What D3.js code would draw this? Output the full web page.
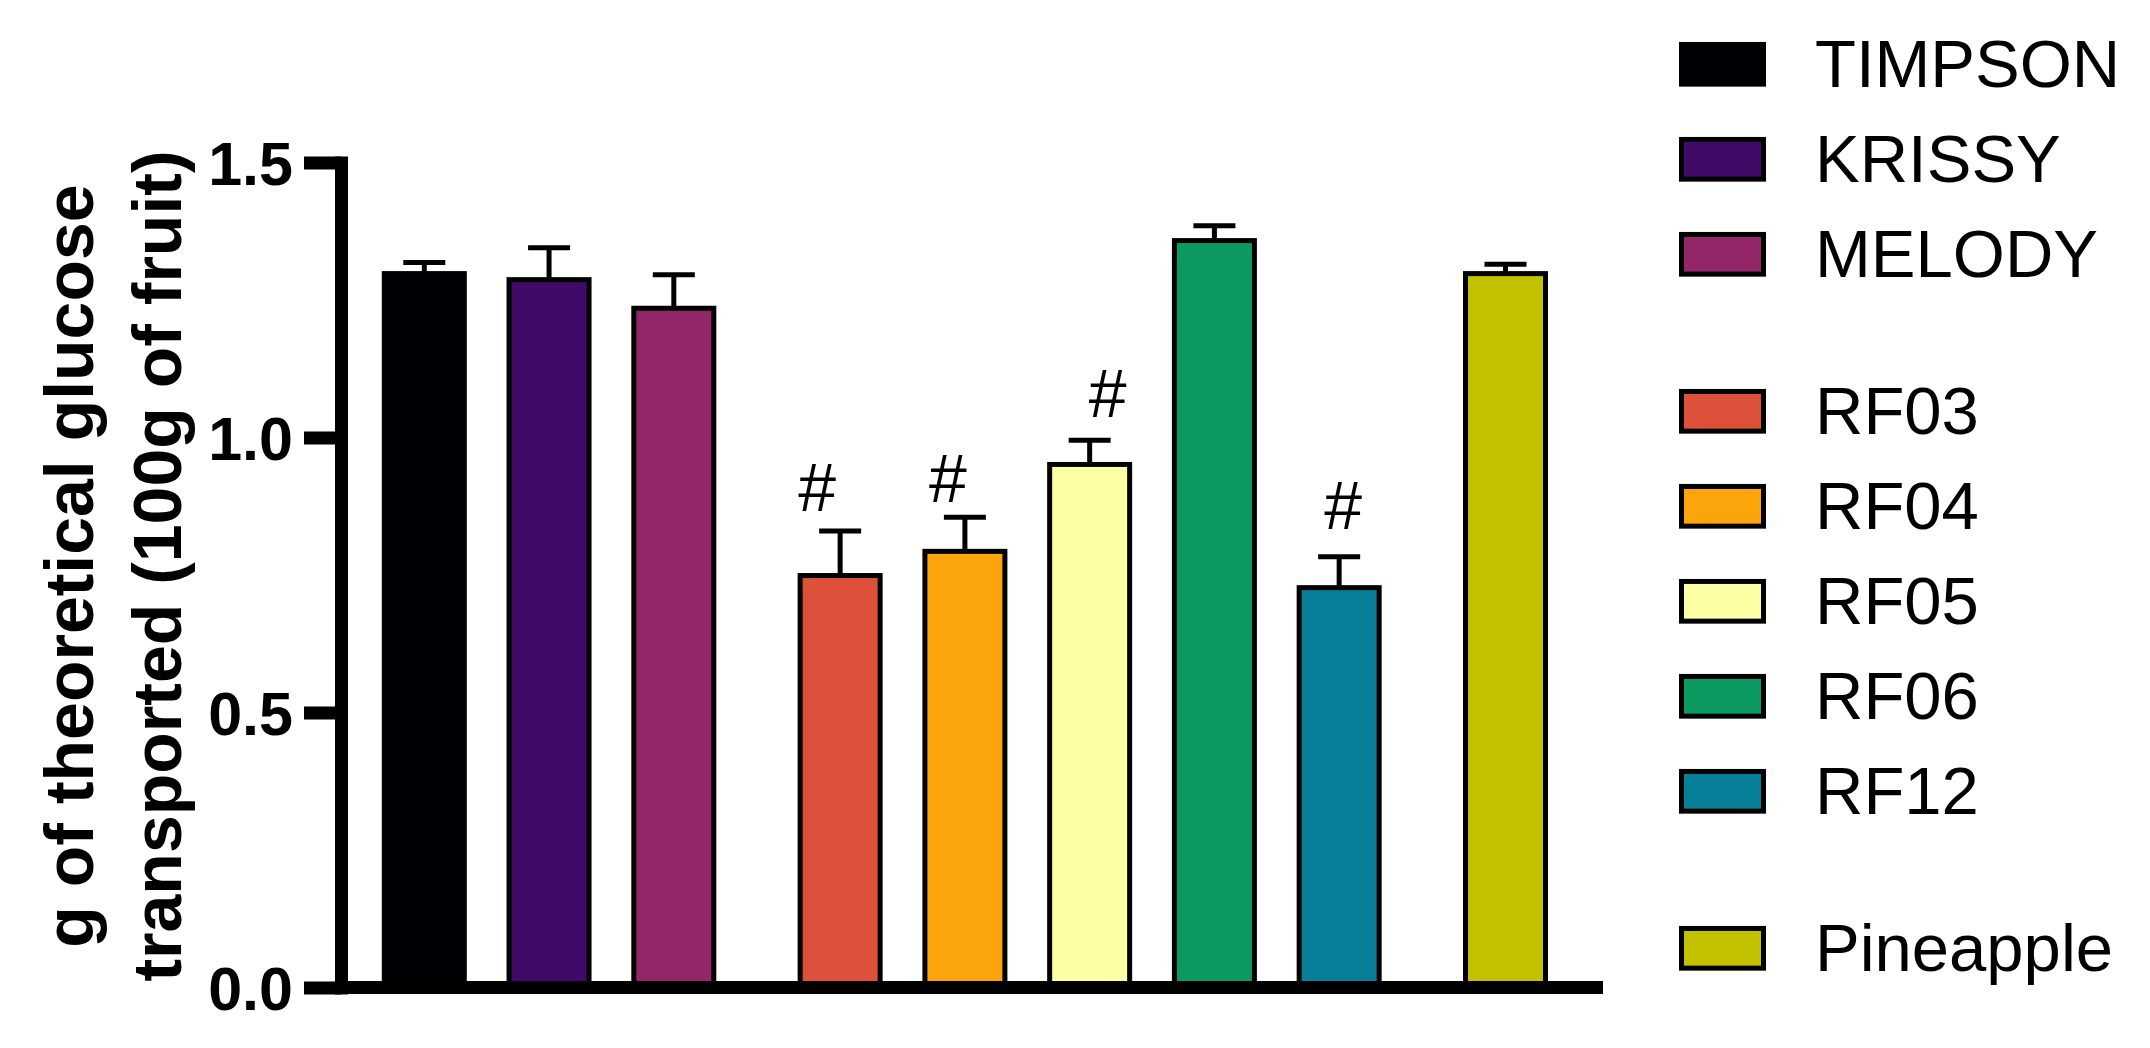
<!DOCTYPE html>
<html>
<head>
<meta charset="utf-8">
<script src="https://cdn.jsdelivr.net/npm/d3@7"></script>
<style>
  html, body { margin: 0; padding: 0; background: #fff; }
  svg { display: block; }
  text { font-family: "Liberation Sans", Arial, Helvetica, sans-serif; }
</style>
</head>
<body>
<svg id="chart" width="2150" height="1048"></svg>
<script>
// ---- data ----
const categories = ["TIMPSON", "KRISSY", "MELODY", "RF03", "RF04", "RF05", "RF06", "RF12", "Pineapple"];
const means      = [1.298, 1.287, 1.235, 0.749, 0.793, 0.951, 1.358, 0.727, 1.298];
const errors     = [0.020, 0.058, 0.061, 0.081, 0.062, 0.044, 0.027, 0.056, 0.017];
const colors     = ["#000004", "#420a68", "#932667", "#dd513a", "#fca50a", "#fcffa4", "#0c9a62", "#077f99", "#c1c100"];
const groups     = [0, 0, 0, 1, 1, 1, 1, 1, 2];
const sigMarks   = ["", "", "", "#", "#", "#", "", "#", ""];
const sigY       = [null, null, null, 0.867, 0.883, 1.038, null, 0.834, null];
const yTicks     = [0, 0.5, 1.0, 1.5];
const yTitle     = ["g of theoretical glucose", "transported (100g of fruit)"];

// ---- layout ----
const L = {
  axisX: 341, xEnd: 1603,
  y0: 987.5, yTop: 162.5,
  firstBar: 424.3, lastBar: 1505.5,
  groupGap: 1 / 3,
  barW: 80, barStroke: 5, capHalf: 21,
  axisStroke: 13, tickLen: 37, tickPad: 11,
  sigDx: [0, 0, 0, -23, -17, 18, 0, 4, 0],
  legBoxX: 1681.5, legBoxW: 82, legBoxH: 39.7, legTextX: 1815,
  legTop: 64.3, legRow: 95, legGap: 62
};

const svg = d3.select("#chart");

const slots = categories.map((c, i) => i + groups[i] * L.groupGap);
const x = d3.scaleLinear()
  .domain([0, d3.max(slots)])
  .range([L.firstBar, L.lastBar]);
const y = d3.scaleLinear()
  .domain([0, 1.5])
  .range([L.y0, L.yTop]);

const data = categories.map((c, i) => ({
  name: c, mean: means[i], err: errors[i], color: colors[i],
  cx: x(slots[i]), mark: sigMarks[i], markY: sigY[i], dx: L.sigDx[i]
}));

// bars
svg.append("g").selectAll("rect").data(data).join("rect")
  .attr("x", d => d.cx - L.barW / 2)
  .attr("y", d => y(d.mean))
  .attr("width", L.barW)
  .attr("height", d => y(0) - y(d.mean))
  .attr("fill", d => d.color)
  .attr("stroke", "#000")
  .attr("stroke-width", L.barStroke);

// error bars
const eb = svg.append("g").attr("stroke", "#000").attr("stroke-width", L.barStroke);
eb.selectAll("line.stem").data(data).join("line").attr("class", "stem")
  .attr("x1", d => d.cx).attr("x2", d => d.cx)
  .attr("y1", d => y(d.mean)).attr("y2", d => y(d.mean + d.err));
eb.selectAll("line.cap").data(data).join("line").attr("class", "cap")
  .attr("x1", d => d.cx - L.capHalf).attr("x2", d => d.cx + L.capHalf)
  .attr("y1", d => y(d.mean + d.err)).attr("y2", d => y(d.mean + d.err));

// significance marks
svg.append("g").selectAll("text").data(data.filter(d => d.mark)).join("text")
  .attr("x", d => d.cx + d.dx)
  .attr("y", d => y(d.markY))
  .attr("text-anchor", "middle")
  .attr("font-size", 68)
  .attr("fill", "#000")
  .text(d => d.mark);

// x axis line
svg.append("line")
  .attr("x1", L.axisX).attr("x2", L.xEnd)
  .attr("y1", y(0)).attr("y2", y(0))
  .attr("stroke", "#000").attr("stroke-width", L.axisStroke);

// y axis
const yAxis = d3.axisLeft(y)
  .tickValues(yTicks)
  .tickFormat(d3.format(".1f"))
  .tickSize(L.tickLen)
  .tickSizeOuter(0)
  .tickPadding(L.tickPad);
const ga = svg.append("g").attr("transform", `translate(${L.axisX},0)`).call(yAxis);
ga.select(".domain")
  .attr("stroke", "#000").attr("stroke-width", L.axisStroke)
  .attr("stroke-linecap", "square");
ga.selectAll(".tick line").attr("stroke", "#000").attr("stroke-width", L.axisStroke);
ga.selectAll(".tick text")
  .attr("font-family", "'Liberation Sans', Arial, sans-serif")
  .attr("font-weight", "bold")
  .attr("font-size", 61)
  .attr("fill", "#000")
  .attr("dy", "0.36em");

// y title
const yMid = (y(0) + y(1.5)) / 2 - 9;
const title = svg.append("g");
yTitle.forEach((t, i) => {
  title.append("text")
    .attr("transform", `translate(${92.7 + i * 88},${yMid}) rotate(-90)`)
    .attr("text-anchor", "middle")
    .attr("font-weight", "bold")
    .attr("font-size", 68)
    .attr("fill", "#000")
    .text(t);
});

// legend
const leg = svg.append("g");
data.forEach((d, i) => {
  const cy = L.legTop + i * L.legRow + groups[i] * L.legGap;
  leg.append("rect")
    .attr("x", L.legBoxX).attr("y", cy - L.legBoxH / 2)
    .attr("width", L.legBoxW).attr("height", L.legBoxH)
    .attr("fill", d.color).attr("stroke", "#000").attr("stroke-width", L.barStroke);
  leg.append("text")
    .attr("x", L.legTextX).attr("y", cy + 22.4)
    .attr("font-size", 67)
    .attr("fill", "#000")
    .text(d.name);
});
</script>
</body>
</html>
